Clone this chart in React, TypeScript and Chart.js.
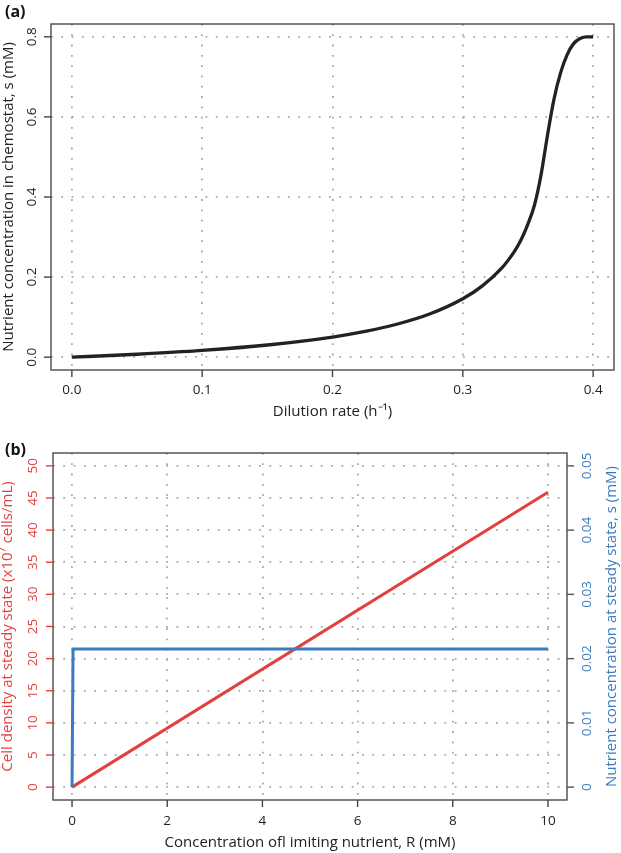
import React, { useEffect, useRef } from "react";
import { Chart, registerables } from "chart.js";
Chart.register(...registerables);

// Panel (a): nutrient concentration in chemostat vs dilution rate
const dilutionRate = [0, 0.05, 0.1, 0.15, 0.2, 0.225, 0.25, 0.275, 0.3, 0.315, 0.33, 0.335, 0.34, 0.345, 0.35, 0.355, 0.36, 0.365, 0.37, 0.375, 0.38, 0.385, 0.39, 0.395, 0.4];
const chemostatNutrient = [0, 0.0073, 0.0169, 0.0304, 0.0502, 0.0643, 0.0828, 0.1083, 0.1458, 0.178, 0.223, 0.243, 0.266, 0.295, 0.333, 0.38, 0.455, 0.555, 0.645, 0.71, 0.755, 0.783, 0.796, 0.8, 0.8];
const aXTicks = [0, 0.1, 0.2, 0.3, 0.4];
const aXTickLabels = ["0.0", "0.1", "0.2", "0.3", "0.4"];
const aYTicks = [0, 0.2, 0.4, 0.6, 0.8];
const aYTickLabels = ["0.0", "0.2", "0.4", "0.6", "0.8"];

// Panel (b): steady state vs concentration of limiting nutrient
const densityR = [0, 10];
const cellDensity = [0, 45.9];
const nutrientR = [0, 0.0215, 10];
const steadyNutrient = [0, 0.0215, 0.0215];
const bXTicks = [0, 2, 4, 6, 8, 10];
const bXTickLabels = ["0", "2", "4", "6", "8", "10"];
const bLeftTicks = [0, 5, 10, 15, 20, 25, 30, 35, 40, 45, 50];
const bLeftTickLabels = ["0", "5", "10", "15", "20", "25", "30", "35", "40", "45", "50"];
const bRightTicks = [0, 0.01, 0.02, 0.03, 0.04, 0.05];
const bRightTickLabels = ["0", "0.01", "0.02", "0.03", "0.04", "0.05"];

const RED = "#e2403f";
const BLUE = "#3a7cbf";
const FONT = '"Open Sans", sans-serif';
const GRID = "#a9a9a9";

type AxisSpec = {
  id: string;
  side: "bottom" | "left" | "right";
  ticks: number[];
  labels: string[];
  color: string;
  tickColor: string;
  labelOffset: number;
  title: string;
  titleColor: string;
  titleOffset: number;
};

function axesPlugin(axes: AxisSpec[], panelLabel: string, panelY: number) {
  return {
    id: "customAxes",
    afterDraw(chart: any) {
      const ctx = chart.ctx as CanvasRenderingContext2D;
      const area = chart.chartArea;
      ctx.save();
      ctx.strokeStyle = "#4a4a4a";
      ctx.lineWidth = 1.4;
      ctx.strokeRect(area.left, area.top, area.right - area.left, area.bottom - area.top);
      for (const ax of axes) {
        const scale = chart.scales[ax.id];
        ctx.strokeStyle = ax.tickColor;
        ctx.lineWidth = 1.4;
        ctx.fillStyle = ax.color;
        ctx.font = `13.5px ${FONT}`;
        ctx.textAlign = "center";
        ctx.textBaseline = "middle";
        ax.ticks.forEach((v, i) => {
          const p = scale.getPixelForValue(v);
          if (ax.side === "bottom") {
            ctx.beginPath();
            ctx.moveTo(p, area.bottom);
            ctx.lineTo(p, area.bottom + 7);
            ctx.stroke();
            ctx.fillText(ax.labels[i], p, area.bottom + ax.labelOffset);
          } else {
            const x0 = ax.side === "left" ? area.left : area.right;
            const dir = ax.side === "left" ? -1 : 1;
            ctx.beginPath();
            ctx.moveTo(x0, p);
            ctx.lineTo(x0 + dir * 7, p);
            ctx.stroke();
            ctx.save();
            ctx.translate(x0 + dir * ax.labelOffset, p);
            ctx.rotate(-Math.PI / 2);
            ctx.fillText(ax.labels[i], 0, 0);
            ctx.restore();
          }
        });
        ctx.font = `15px ${FONT}`;
        ctx.fillStyle = ax.titleColor;
        if (ax.side === "bottom") {
          ctx.fillText(ax.title, (area.left + area.right) / 2, area.bottom + ax.titleOffset);
        } else {
          const x0 = ax.side === "left" ? area.left : area.right;
          const dir = ax.side === "left" ? -1 : 1;
          ctx.save();
          ctx.translate(x0 + dir * ax.titleOffset, (area.top + area.bottom) / 2);
          ctx.rotate(-Math.PI / 2);
          ctx.fillText(ax.title, 0, 0);
          ctx.restore();
        }
      }
      ctx.fillStyle = "#111";
      ctx.font = `bold 16px ${FONT}`;
      ctx.textAlign = "left";
      ctx.textBaseline = "middle";
      ctx.fillText(panelLabel, 5, panelY);
      ctx.restore();
    },
  };
}

function gridScale(min: number, max: number, ticks: number[], size: number, horizontal: boolean, showGrid = true) {
  return {
    type: "linear",
    min,
    max,
    position: undefined as any,
    ticks: { display: false },
    grid: { display: showGrid, drawTicks: false, color: GRID, lineWidth: 1.8 },
    border: { display: false, dash: [1.8, 8.5] },
    afterBuildTicks: (scale: any) => {
      scale.ticks = ticks.map((v) => ({ value: v }));
    },
    afterFit: (scale: any) => {
      if (horizontal) scale.height = size;
      else scale.width = size;
    },
  };
}

function PanelA() {
  const ref = useRef<HTMLCanvasElement>(null);
  useEffect(() => {
    const x = gridScale(-0.016, 0.416, aXTicks, 58, true);
    x.position = "bottom";
    const y = gridScale(-0.032, 0.832, aYTicks, 51, false);
    y.position = "left";
    const chart = new Chart(ref.current!, {
      type: "line",
      data: {
        datasets: [
          {
            data: dilutionRate.map((d, i) => ({ x: d, y: chemostatNutrient[i] })),
            borderColor: "#222",
            borderWidth: 3.3,
            pointRadius: 0,
            cubicInterpolationMode: "monotone",
            fill: false,
          },
        ],
      },
      options: {
        responsive: false,
        animation: false,
        devicePixelRatio: 1,
        layout: { padding: { top: 24, right: 7, left: 0, bottom: 0 } },
        plugins: { legend: { display: false }, tooltip: { enabled: false } },
        scales: { x: x as any, y: y as any },
      },
      plugins: [
        axesPlugin(
          [
            { id: "x", side: "bottom", ticks: aXTicks, labels: aXTickLabels, color: "#222", tickColor: "#444", labelOffset: 20, title: "Dilution rate (h\u207B\u00B9)", titleColor: "#222", titleOffset: 42 },
            { id: "y", side: "left", ticks: aYTicks, labels: aYTickLabels, color: "#222", tickColor: "#444", labelOffset: 19, title: "Nutrient concentration in chemostat, s (mM)", titleColor: "#222", titleOffset: 42 },
          ],
          "(a)",
          12
        ),
      ],
    } as any);
    return () => chart.destroy();
  }, []);
  return <canvas ref={ref} width={621} height={428} style={{ display: "block" }} />;
}

function PanelB() {
  const ref = useRef<HTMLCanvasElement>(null);
  useEffect(() => {
    const x = gridScale(-0.4, 10.4, bXTicks, 53, true);
    x.position = "bottom";
    const yL = gridScale(-2, 52, bLeftTicks, 53, false);
    yL.position = "left";
    const yR = gridScale(-0.002, 0.052, bRightTicks, 54, false, false);
    yR.position = "right";
    const chart = new Chart(ref.current!, {
      type: "line",
      data: {
        datasets: [
          {
            data: nutrientR.map((r, i) => ({ x: r, y: steadyNutrient[i] })),
            borderColor: BLUE,
            borderWidth: 3,
            pointRadius: 0,
            yAxisID: "yR",
            tension: 0,
          },
          {
            data: densityR.map((r, i) => ({ x: r, y: cellDensity[i] })),
            borderColor: RED,
            borderWidth: 3,
            pointRadius: 0,
            yAxisID: "yL",
            tension: 0,
          },
        ],
      },
      options: {
        responsive: false,
        animation: false,
        devicePixelRatio: 1,
        layout: { padding: { top: 25, right: 0, left: 0, bottom: 0 } },
        plugins: { legend: { display: false }, tooltip: { enabled: false } },
        scales: { x: x as any, yL: yL as any, yR: yR as any },
      },
      plugins: [
        axesPlugin(
          [
            { id: "x", side: "bottom", ticks: bXTicks, labels: bXTickLabels, color: "#222", tickColor: "#444", labelOffset: 21, title: "Concentration ofl imiting nutrient, R (mM)", titleColor: "#222", titleOffset: 43 },
            { id: "yL", side: "left", ticks: bLeftTicks, labels: bLeftTickLabels, color: RED, tickColor: RED, labelOffset: 20, title: "Cell density at steady state (x10\u2077 cells/mL)", titleColor: RED, titleOffset: 45 },
            { id: "yR", side: "right", ticks: bRightTicks, labels: bRightTickLabels, color: BLUE, tickColor: "#555", labelOffset: 20, title: "Nutrient concentration at steady state, s (mM)", titleColor: BLUE, titleOffset: 45 },
          ],
          "(b)",
          22
        ),
      ],
    } as any);
    return () => chart.destroy();
  }, []);
  return <canvas ref={ref} width={621} height={425} style={{ display: "block" }} />;
}

export default function App() {
  useEffect(() => {
    document.body.style.margin = "0";
  }, []);
  return (
    <div style={{ width: 621, height: 853, background: "#fff" }}>
      <PanelA />
      <PanelB />
    </div>
  );
}
